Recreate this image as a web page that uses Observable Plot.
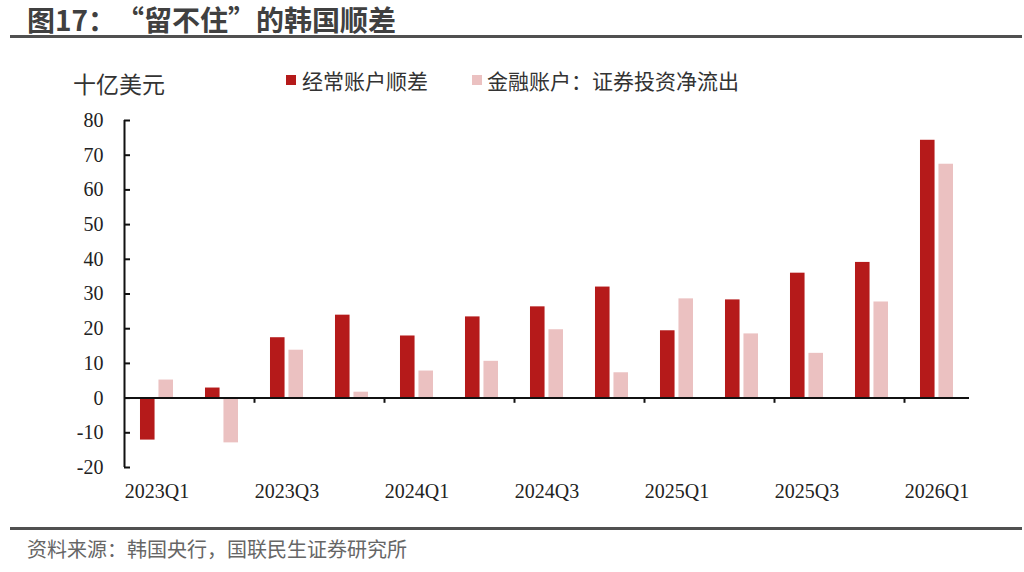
<!DOCTYPE html>
<html>
<head>
<meta charset="utf-8">
<script src="https://cdn.jsdelivr.net/npm/d3@7"></script>
<script src="https://cdn.jsdelivr.net/npm/@observablehq/plot@0.6"></script>
<style>
  html, body { margin: 0; padding: 0; background: #fff; }
  #root { position: relative; width: 1024px; height: 572px; overflow: hidden; background: #fff; font-family: "Noto Sans CJK SC", "Noto Sans", sans-serif; }
  .abs { position: absolute; white-space: nowrap; line-height: 1; }
  #title { left: 27px; top: 5px; font-size: 28px; font-weight: bold; color: #404040; }
  .ql { display: inline-block; width: 1em; text-align: right; }
  .qr { display: inline-block; width: 1em; text-align: left; }
  #topline { left: 10px; top: 35px; width: 1012px; height: 3px; background: #505050; }
  #unit { left: 73px; top: 72px; font-size: 23px; color: #333; }
  .sw { width: 10px; height: 10px; }
  .lg { font-size: 21px; color: #333; top: 70px; }
  #botline { left: 10px; top: 527px; width: 1012px; height: 3px; background: #505050; }
  #source { left: 27px; top: 539px; font-size: 20px; color: #666; }
  #chart { position: absolute; left: 0; top: 100px; }
</style>
</head>
<body>
<div id="root">
  <div id="title" class="abs">图17：<span class="ql">“</span>留不住<span class="qr">”</span>的韩国顺差</div>
  <div id="topline" class="abs"></div>
  <div id="unit" class="abs">十亿美元</div>
  <div class="abs sw" style="left:286px;top:75px;background:#B51A1A"></div>
  <div class="abs lg" style="left:302px">经常账户顺差</div>
  <div class="abs sw" style="left:472px;top:75px;background:#EBC1C1"></div>
  <div class="abs lg" style="left:487px">金融账户：证券投资净流出</div>
  <div id="chart"></div>
  <div id="botline" class="abs"></div>
  <div id="source" class="abs">资料来源：韩国央行，国联民生证券研究所</div>
</div>
<script>
const quarters = ["2023Q1","2023Q2","2023Q3","2023Q4","2024Q1","2024Q2","2024Q3","2024Q4","2025Q1","2025Q2","2025Q3","2025Q4","2026Q1"];
const currentAccount = [-12.1, 2.9, 17.4, 23.9, 17.9, 23.4, 26.3, 32.0, 19.4, 28.3, 36.0, 39.1, 74.3];
const securitiesOutflow = [5.2, -12.9, 13.8, 1.7, 7.8, 10.6, 19.7, 7.3, 28.6, 18.5, 12.9, 27.7, 67.4];
const yTicks = [-20, -10, 0, 10, 20, 30, 40, 50, 60, 70, 80];
const boundaryTicks = quarters.filter((d, i) => i > 0 && i % 2 === 0);

const darkRed = "#B51A1A";
const pink = "#EBC1C1";

const width = 1024, height = 407;
const marginLeft = 124, marginRight = 55, marginTop = 20, marginBottom = 40;
const bw = (width - marginLeft - marginRight) / quarters.length;

const caData = quarters.map((q, i) => ({q, v: currentAccount[i]}));
const soData = quarters.map((q, i) => ({q, v: securitiesOutflow[i]}));

const chart = Plot.plot({
  width, height, marginLeft, marginRight, marginTop, marginBottom,
  style: {fontFamily: "'Times New Roman', 'Liberation Serif', serif", fontSize: "20px", color: "#222", background: "transparent"},
  x: {type: "band", domain: quarters, padding: 0, label: null},
  y: {domain: [-20, 80], label: null},
  marks: [
    Plot.barY(caData, {x: "q", y: "v", fill: darkRed, insetLeft: bw * 0.246, insetRight: bw * 0.53}),
    Plot.barY(soData, {x: "q", y: "v", fill: pink, insetLeft: bw * 0.53, insetRight: bw * 0.246}),
    Plot.ruleY([0], {stroke: "#111", strokeWidth: 2}),
    Plot.ruleX([quarters[0]], {y1: -20, y2: 80, dx: -bw / 2, stroke: "#111", strokeWidth: 2}),
    Plot.ruleX(boundaryTicks, {y1: 0, y2: -1.5, dx: -bw / 2, stroke: "#111", strokeWidth: 2}),
    Plot.axisY(yTicks, {tickSize: 0, tickPadding: 21, tickFormat: d => String(d), fill: "#222", label: null}),
    Plot.axisY(yTicks, {tickSize: -6, tickFormat: () => "", stroke: "#111", strokeWidth: 2, label: null}),
    Plot.axisX({tickSize: 0, tickPadding: 16, tickFormat: (d) => (quarters.indexOf(d) % 2 === 0 ? d : ""), fill: "#222", label: null})
  ]
});
document.getElementById("chart").appendChild(chart);
</script>
</body>
</html>
